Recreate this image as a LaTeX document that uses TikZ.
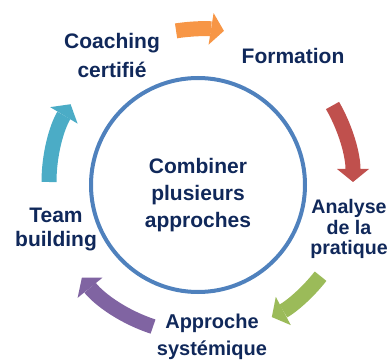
\documentclass[tikz,border=0pt]{standalone}
\usepackage{fontspec}
\setmainfont{Liberation Sans}
\usetikzlibrary{arrows.meta,calc}
\definecolor{txtnavy}{RGB}{16,40,90}
\definecolor{ringblue}{RGB}{79,129,189}
\definecolor{corange}{RGB}{247,150,70}
\definecolor{cred}{RGB}{192,80,77}
\definecolor{cgreen}{RGB}{155,187,89}
\definecolor{cpurple}{RGB}{128,100,162}
\definecolor{cteal}{RGB}{75,172,198}
\tikzset{
  cyc/.style={line width=15pt,-{Triangle[width=32pt,length=13pt,line width=0pt]}},
  lbl/.style={text=txtnavy,align=center,inner sep=0pt}
}

\begin{document}
\begin{tikzpicture}[x=1pt,y=1pt]
  \useasboundingbox (0,0) rectangle (388,359);
  \coordinate (c) at (200,177);
  % central ring
  \node[draw=ringblue,line width=4pt,circle,minimum size=214pt,inner sep=0pt] (ring) at (198,174) {};
  \node[lbl,font=\bfseries\fontsize{21}{27}\selectfont] (mid) at (198,164) {Combiner\\plusieurs\\approches};
  % labels round the ring
  \node[lbl,font=\bfseries\fontsize{21}{29}\selectfont] (coach) at (112,304) {Coaching\\certifié};
  \node[lbl,font=\bfseries\fontsize{21}{25}\selectfont] (form) at (293,303) {Formation};
  \node[lbl,font=\bfseries\fontsize{19.6}{20.5}\selectfont] (anal) at (349,130) {Analyse\\de la\\pratique};
  \node[lbl,font=\bfseries\fontsize{21}{24}\selectfont] (team) at (56,129) {Team\\building};
  \node[lbl,font=\bfseries\fontsize{20}{27}\selectfont] (sys) at (212,22) {Approche\\systémique};
  % arrows
  \draw[cyc,corange] ($(c)+(99:153)$) arc[start angle=99,end angle=81,radius=153];
  \draw[cyc,cred] ($(c)+(30:153)$) arc[start angle=30,end angle=0,radius=153];
  \draw[cyc,cgreen] ($(c)+(-38:153)$) arc[start angle=-38,end angle=-62,radius=153];
  \draw[cyc,cpurple] ($(c)+(-108:152)$) arc[start angle=-108,end angle=-141,radius=152];
  \draw[cyc,cteal] ($(c)+(180:151)$) arc[start angle=180,end angle=149,radius=151];
\end{tikzpicture}
\end{document}
